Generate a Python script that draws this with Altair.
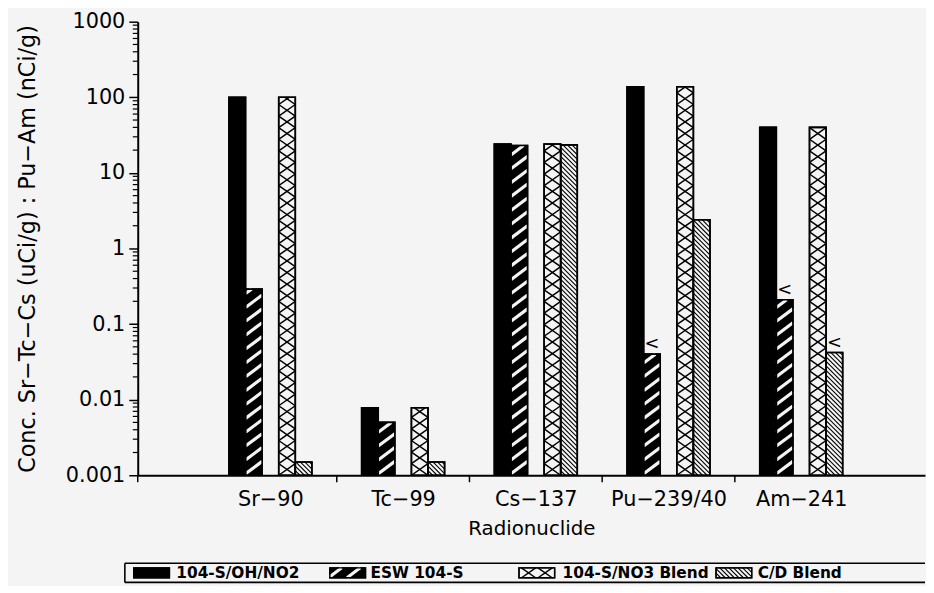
import math
import json
import altair as alt
import pandas as pd

# ---------------- data ----------------
nuclides = ["Sr−90", "Tc−99", "Cs−137", "Pu−239/40", "Am−241"]
series_names = ["104-S/OH/NO2", "ESW 104-S", "104-S/NO3 Blend", "C/D Blend"]
oh_no2 = [100, 0.0078, 24, 138, 40]
esw_104s = [0.29, 0.0050, 23, 0.040, 0.21]
no3_blend = [100, 0.0078, 24, 138, 40]
cd_blend = [0.0015, 0.0015, 23.5, 2.4, 0.042]
esw_less_than = [False, False, False, True, True]
cd_less_than = [False, False, False, False, True]
y_major_ticks = [0.001, 0.01, 0.1, 1, 10, 100, 1000]

series_values = dict(zip(series_names, [oh_no2, esw_104s, no3_blend, cd_blend]))
less_than = {"ESW 104-S": esw_less_than, "C/D Blend": cd_less_than}

# ---------------- layout / style ----------------
BG = "#f4f4f4"
FONT = "DejaVu Sans"
W, H = 795, 458
Y_MIN, Y_MAX = 0.001, 1000
X_MAX = 5.933            # group step of ~134 px
BAR_W = 0.125            # bar width in group units
PAD_L, PAD_T = 8, 0
SPACING = 24
PLOT_LEFT = 137          # page x of the plot's left edge (legend is aligned to it)
SLOT = {"104-S/OH/NO2": -2.5, "ESW 104-S": -1.5, "104-S/NO3 Blend": 0.5, "C/D Blend": 1.5}
FILL = {"104-S/OH/NO2": "black", "ESW 104-S": "black", "104-S/NO3 Blend": BG, "C/D Blend": BG}
# hatch styles: (colour, slope dy/dx, vertical step px, stroke width)
HATCH = {
    "104-S/OH/NO2": [],
    "ESW 104-S": [(BG, 0.75, 14.0, 3.2)],
    "104-S/NO3 Blend": [("black", 0.7, 11.7, 1.5), ("black", -0.7, 11.7, 1.5)],
    "C/D Blend": [("black", -1.0, 4.6, 1.1)],
}

DEC_PX = H / math.log10(Y_MAX / Y_MIN)
BAR_PX = BAR_W * W / X_MAX


def hatch_segments(w, h, slope, step):
    """Line segments y = c + slope*x clipped to the box [0,w]x[0,h] (pixels)."""
    segs = []
    if h <= 0:
        return segs
    if slope > 0:
        c, cmax = -slope * w, h
    else:
        c, cmax = 0.0, h - slope * w
    while c < cmax:
        lo, hi = (0 - c) / slope, (h - c) / slope
        if lo > hi:
            lo, hi = hi, lo
        xa, xb = max(0.0, lo), min(w, hi)
        if xb - xa > 1e-6:
            segs.append((xa, max(0.0, c + slope * xa), xb, max(0.0, c + slope * xb)))
        c += step
    return segs


def px_to_val(v):
    return 10 ** (math.log10(Y_MIN) + v / DEC_PX)


bar_rows, hatch_rows, lt_rows = [], [], []
for i, nuc in enumerate(nuclides):
    center = i + 1
    for s in series_names:
        val = series_values[s][i]
        x0 = center + SLOT[s] * BAR_W
        x1 = x0 + BAR_W
        bar_rows.append(dict(nuclide=nuc, series=s, x0=x0, x1=x1, value=val, base=Y_MIN, fill=FILL[s]))
        top = math.log10(val / Y_MIN) * DEC_PX
        for color, slope, step, sw in HATCH[s]:
            for a, b, c, d in hatch_segments(BAR_PX, top, slope, step):
                hatch_rows.append(dict(x0=x0 + a / BAR_PX * BAR_W, value=px_to_val(b),
                                       x1=x0 + c / BAR_PX * BAR_W, v2=px_to_val(d),
                                       color=color, sw=sw))
        if s in less_than and less_than[s][i]:
            lt_rows.append(dict(x0=x0, value=val))

bars_df = pd.DataFrame(bar_rows)
hatch_df = pd.DataFrame(hatch_rows)
lt_df = pd.DataFrame(lt_rows)
minor_df = pd.DataFrame({"value": [float(f"{m}e{e}") for e in range(-3, 3) for m in range(2, 10)]})
bound_df = pd.DataFrame({"x0": [0] + [k + 0.5 for k in range(1, len(nuclides))]})

x_scale = alt.Scale(domain=[0, X_MAX], nice=False, zero=False)
y_scale = alt.Scale(type="log", domain=[Y_MIN, Y_MAX], nice=False)

y_axis = alt.Axis(
    title="Conc. Sr−Tc−Cs (uCi/g) : Pu−Am (nCi/g)",
    values=y_major_ticks, format=".3~f",
    tickSize=9, grid=False, labelFontSize=21, labelPadding=4, labelOverlap=False,
    titleFontSize=22.5, titlePadding=26,
)

label_arr = json.dumps(nuclides, ensure_ascii=False)
x_axis = alt.Axis(
    title="Radionuclide",
    values=[1, 2, 3, 4, 5],
    labelExpr=f"{label_arr}[round(datum.value) - 1]",
    ticks=False, labelPadding=14, labelFontSize=21, labelFlush=False, labelOverlap=False,
    grid=False, titleFontSize=20, titlePadding=9,
)

X = alt.X("x0:Q", scale=x_scale, axis=x_axis)
Y = alt.Y("value:Q", scale=y_scale, axis=y_axis)

bars = alt.Chart(bars_df).mark_rect(stroke="black", strokeWidth=1.6).encode(
    x=X, x2="x1:Q", y=Y, y2="base:Q",
    fill=alt.Fill("fill:N", scale=None),
)
hatch = alt.Chart(hatch_df).mark_rule(strokeCap="butt").encode(
    x=X, x2="x1:Q", y=Y, y2="v2:Q",
    color=alt.Color("color:N", scale=None),
    strokeWidth=alt.StrokeWidth("sw:Q", scale=None),
)
outline = alt.Chart(bars_df).mark_rect(fillOpacity=0, stroke="black", strokeWidth=1.6).encode(
    x=X, x2="x1:Q", y=Y, y2="base:Q",
)
lt = alt.Chart(lt_df).mark_text(text="<", align="left", baseline="bottom", dx=1, dy=-1,
                                fontSize=18, font=FONT, color="black").encode(x=X, y=Y)
# minor ticks of the log axis and the group-boundary ticks of the x axis
minor_ticks = alt.Chart(minor_df).mark_rule(color="black", strokeWidth=1.2).encode(
    y=Y, x=alt.value(-5), x2=alt.value(0),
)
bound_ticks = alt.Chart(bound_df).mark_rule(color="black", strokeWidth=1.5).encode(
    x=X, y=alt.value(H), y2=alt.value(H + 7),
)
main = alt.layer(bars, hatch, outline, lt, minor_ticks, bound_ticks).properties(width=W, height=H)

# ---------------- legend (drawn as its own small chart, page-x coordinates) ----------------
LW, LH = W, 21
legend_box_x = [124, 932]
legend_swatch_x = [133, 331, 522, 721]
legend_text_x = [176, 372, 566, 763]
SW_W, SW_H, SW_Y0 = 36, 10, 5.5

leg_sw_rows, leg_hatch_rows, leg_text_rows = [], [], []
for s, sx, tx in zip(series_names, legend_swatch_x, legend_text_x):
    leg_sw_rows.append(dict(x=sx, x2=sx + SW_W, y=SW_Y0, y2=SW_Y0 + SW_H, fill=FILL[s]))
    leg_text_rows.append(dict(x=tx, y=SW_Y0 + SW_H / 2, label=s))
    for color, slope, step, sw in HATCH[s]:
        for a, b, c, d in hatch_segments(SW_W, SW_H, slope, step):
            leg_hatch_rows.append(dict(x=sx + a, y=SW_Y0 + b, x2=sx + c, y2=SW_Y0 + d, color=color, sw=sw))

lx = alt.Scale(domain=[PLOT_LEFT, PLOT_LEFT + LW], nice=False, zero=False)
ly = alt.Scale(domain=[0, LH], nice=False, zero=False)
LX = alt.X("x:Q", scale=lx, axis=None)
LY = alt.Y("y:Q", scale=ly, axis=None)

bx0, bx1 = legend_box_x
box_df = pd.DataFrame([
    dict(x=bx0, x2=bx1, y=LH - 0.8, y2=LH - 0.8),   # top edge
    dict(x=bx0, x2=bx1, y=0.8, y2=0.8),             # bottom edge
    dict(x=bx0, x2=bx0, y=0.8, y2=LH - 0.8),        # left edge
])
leg_box = alt.Chart(box_df).mark_rule(color="black", strokeWidth=1.6).encode(
    x=LX, x2="x2:Q", y=LY, y2="y2:Q",
)
leg_sw = alt.Chart(pd.DataFrame(leg_sw_rows)).mark_rect(stroke="black", strokeWidth=1.4).encode(
    x=LX, x2="x2:Q", y=LY, y2="y2:Q",
    fill=alt.Fill("fill:N", scale=None),
)
leg_hatch = alt.Chart(pd.DataFrame(leg_hatch_rows)).mark_rule(strokeCap="butt").encode(
    x=LX, x2="x2:Q", y=LY, y2="y2:Q",
    color=alt.Color("color:N", scale=None),
    strokeWidth=alt.StrokeWidth("sw:Q", scale=None),
)
leg_sw_outline = alt.Chart(pd.DataFrame(leg_sw_rows)).mark_rect(fillOpacity=0, stroke="black", strokeWidth=1.4).encode(
    x=LX, x2="x2:Q", y=LY, y2="y2:Q",
)
leg_text = alt.Chart(pd.DataFrame(leg_text_rows)).mark_text(
    align="left", baseline="middle", fontSize=15.5, fontWeight="bold", font=FONT, color="black"
).encode(x=LX, y=LY, text="label:N")
legend = alt.layer(leg_box, leg_sw, leg_hatch, leg_sw_outline, leg_text).properties(width=LW, height=LH)

chart = alt.vconcat(main, legend, spacing=SPACING).properties(
    background=BG,
    padding={"left": PAD_L, "top": PAD_T, "right": 0, "bottom": 0},
).configure_view(stroke=None).configure_axis(
    domainColor="black", domainWidth=2, tickColor="black", tickWidth=1.5,
    labelColor="black", titleColor="black", labelFont=FONT, titleFont=FONT,
    titleFontWeight="normal",
)

chart.save("out.html", embed_options={"renderer": "svg", "actions": False})
